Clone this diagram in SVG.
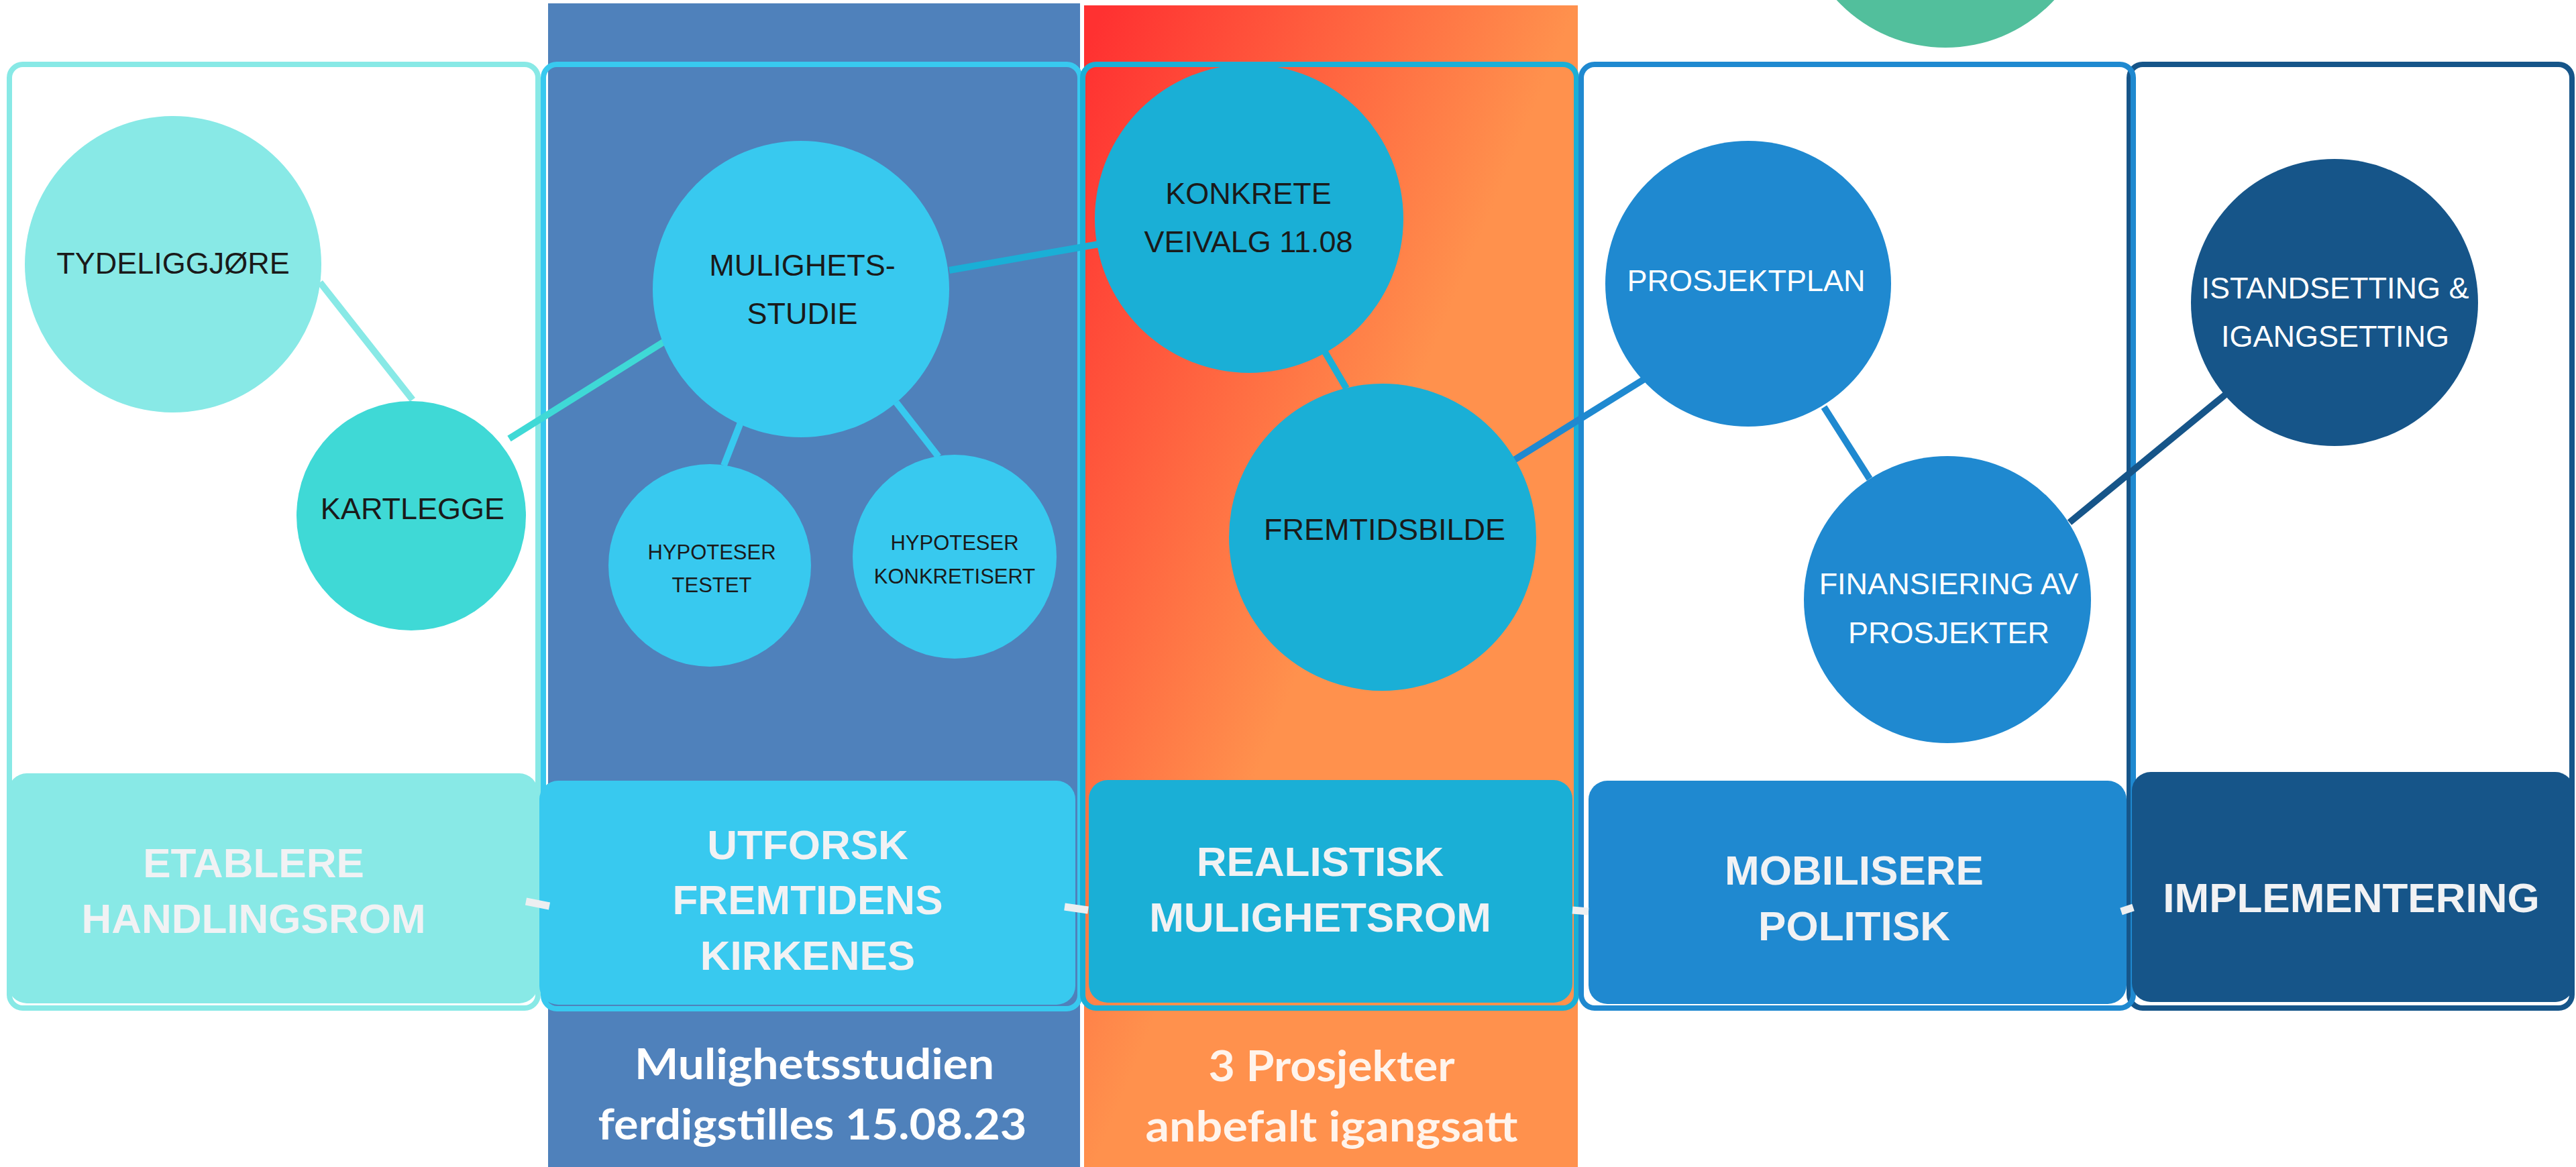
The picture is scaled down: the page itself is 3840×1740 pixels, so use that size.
<svg xmlns="http://www.w3.org/2000/svg" width="3840" height="1740" viewBox="0 0 3840 1740">
  <defs>
    <linearGradient id="warm" gradientUnits="userSpaceOnUse" x1="1650" y1="0" x2="2250" y2="250">
      <stop offset="0" stop-color="#FF3131"/>
      <stop offset="1" stop-color="#FF914D"/>
    </linearGradient>
    <style>
      .frame { fill: none; stroke-width: 8; }
      .conn { fill: none; stroke-width: 10; stroke-linecap: butt; }
      .stub { fill: none; stroke: #ECEFF1; stroke-width: 11; }
      .lbl { font-family: "Liberation Sans", Arial, sans-serif; font-size: 45px; text-anchor: middle; }
      .sm { font-size: 31px; }
      .dk { fill: #1A1A1A; }
      .wh { fill: #FFFFFF; }
      .boxlbl { font-family: "Liberation Sans", Arial, sans-serif; font-weight: bold; font-size: 62px; fill: #F1F2F4; text-anchor: middle; }
      .note { font-family: Lato, "Open Sans", sans-serif; font-weight: 700; font-size: 64px; text-anchor: middle; }
      .c1 { fill: #88E9E6; } .s1 { stroke: #88E9E6; }
      .c1b { fill: #3FD9D6; } .s1b { stroke: #3FD9D6; }
      .c2 { fill: #38C9EF; } .s2 { stroke: #38C9EF; }
      .c3 { fill: #1AAFD6; } .s3 { stroke: #1AAFD6; }
      .c4 { fill: #1F89D0; } .s4 { stroke: #1F89D0; }
      .c5 { fill: #165589; } .s5 { stroke: #165589; }
    </style>
  </defs>

  <rect width="3840" height="1740" fill="#FFFFFF"/>

  <g id="backdrop">
    <rect x="817" y="5" width="793" height="1735" fill="#4F81BB"/>
    <rect x="1616" y="8" width="736" height="1732" fill="url(#warm)"/>
    <circle cx="2900" cy="-150" r="221" fill="#52BF9C"/>
  </g>

  <g id="frames">
    <rect class="frame s1" x="14" y="96" width="788" height="1407" rx="20"/>
    <rect class="frame s2" x="810" y="96" width="800" height="1408" rx="20"/>
    <rect class="frame s3" x="1614" y="96" width="736" height="1407" rx="20"/>
    <rect class="frame s5" x="3174" y="96" width="660" height="1407" rx="20"/>
    <rect class="frame s4" x="2357" y="96" width="823" height="1407" rx="20"/>
  </g>

  <g id="connectors">
    <line class="conn s1" x1="477" y1="421" x2="615" y2="596"/>
    <line class="conn s1b" x1="759" y1="654" x2="989" y2="510"/>
    <line class="conn s3" x1="1415" y1="403" x2="1638" y2="364"/>
    <line class="conn s2" x1="1104" y1="630" x2="1079" y2="694"/>
    <line class="conn s2" x1="1336" y1="600" x2="1399" y2="681"/>
    <line class="conn s3" x1="1974" y1="523" x2="2007" y2="579"/>
    <line class="conn s4" x1="2257" y1="686" x2="2450" y2="566"/>
    <line class="conn s4" x1="2719" y1="607" x2="2787" y2="714"/>
    <line class="conn s5" x1="3085" y1="779" x2="3319" y2="587"/>
  </g>

  <g id="node-tydeliggjore">
    <circle class="c1" cx="258" cy="394" r="221"/>
    <text class="lbl dk" x="258" y="408">TYDELIGGJØRE</text>
  </g>
  <g id="node-kartlegge">
    <circle class="c1b" cx="613" cy="769" r="171"/>
    <text class="lbl dk" x="615" y="774">KARTLEGGE</text>
  </g>
  <g id="node-mulighetsstudie">
    <circle class="c2" cx="1194" cy="431" r="221"/>
    <text class="lbl dk" x="1196" y="411">MULIGHETS-</text>
    <text class="lbl dk" x="1196" y="483">STUDIE</text>
  </g>
  <g id="node-hypoteser-testet">
    <circle class="c2" cx="1058" cy="843" r="151"/>
    <text class="lbl sm dk" x="1061" y="834">HYPOTESER</text>
    <text class="lbl sm dk" x="1061" y="883">TESTET</text>
  </g>
  <g id="node-hypoteser-konkretisert">
    <circle class="c2" cx="1423" cy="830" r="152"/>
    <text class="lbl sm dk" x="1423" y="820">HYPOTESER</text>
    <text class="lbl sm dk" x="1423" y="870">KONKRETISERT</text>
  </g>
  <g id="node-konkrete-veivalg">
    <circle class="c3" cx="1862" cy="326" r="230"/>
    <text class="lbl dk" x="1861" y="304">KONKRETE</text>
    <text class="lbl dk" x="1861" y="376">VEIVALG 11.08</text>
  </g>
  <g id="node-fremtidsbilde">
    <circle class="c3" cx="2061" cy="801" r="229"/>
    <text class="lbl dk" x="2064" y="805">FREMTIDSBILDE</text>
  </g>
  <g id="node-prosjektplan">
    <circle class="c4" cx="2606" cy="423" r="213"/>
    <text class="lbl wh" x="2603" y="434">PROSJEKTPLAN</text>
  </g>
  <g id="node-finansiering">
    <circle class="c4" cx="2903" cy="894" r="214"/>
    <text class="lbl wh" x="2905" y="886">FINANSIERING AV</text>
    <text class="lbl wh" x="2905" y="959">PROSJEKTER</text>
  </g>
  <g id="node-istandsetting">
    <circle class="c5" cx="3480" cy="451" r="214"/>
    <text class="lbl wh" x="3481" y="445">ISTANDSETTING &amp;</text>
    <text class="lbl wh" x="3481" y="517">IGANGSETTING</text>
  </g>

  <g id="box-etablere">
    <rect class="c1" x="12" y="1153" width="790" height="343" rx="28"/>
    <text class="boxlbl" x="378" y="1308">ETABLERE</text>
    <text class="boxlbl" x="378" y="1391">HANDLINGSROM</text>
  </g>
  <g id="box-utforsk">
    <rect class="c2" x="804" y="1164" width="799" height="334" rx="28"/>
    <text class="boxlbl" x="1204" y="1281">UTFORSK</text>
    <text class="boxlbl" x="1204" y="1363">FREMTIDENS</text>
    <text class="boxlbl" x="1204" y="1446">KIRKENES</text>
  </g>
  <g id="box-realistisk">
    <rect class="c3" x="1623" y="1163" width="721" height="332" rx="28"/>
    <text class="boxlbl" x="1968" y="1306">REALISTISK</text>
    <text class="boxlbl" x="1968" y="1389">MULIGHETSROM</text>
  </g>
  <g id="box-mobilisere">
    <rect class="c4" x="2368" y="1164" width="802" height="333" rx="28"/>
    <text class="boxlbl" x="2764" y="1319">MOBILISERE</text>
    <text class="boxlbl" x="2764" y="1402">POLITISK</text>
  </g>
  <g id="box-implementering">
    <rect class="c5" x="3178" y="1151" width="659" height="343" rx="28"/>
    <text class="boxlbl" x="3505" y="1360">IMPLEMENTERING</text>
  </g>

  <g id="box-connectors">
    <line class="stub" x1="784" y1="1344" x2="819" y2="1351"/>
    <line class="stub" x1="1587" y1="1352" x2="1622" y2="1357"/>
    <line class="stub" x1="2344" y1="1357" x2="2368" y2="1359"/>
    <line class="stub" x1="3162" y1="1359" x2="3180" y2="1353"/>
  </g>

  <g id="notes">
    <text class="note" x="1214" y="1609" fill="#FFFFFF" textLength="536" lengthAdjust="spacingAndGlyphs">Mulighetsstudien</text>
    <text class="note" x="1211" y="1699" fill="#FFFFFF" textLength="639" lengthAdjust="spacingAndGlyphs">ferdigstilles 15.08.23</text>
    <text class="note" x="1985" y="1612" fill="#FFF4EC" textLength="367" lengthAdjust="spacingAndGlyphs">3 Prosjekter</text>
    <text class="note" x="1985" y="1702" fill="#FFF4EC" textLength="555" lengthAdjust="spacingAndGlyphs">anbefalt igangsatt</text>
  </g>
</svg>
